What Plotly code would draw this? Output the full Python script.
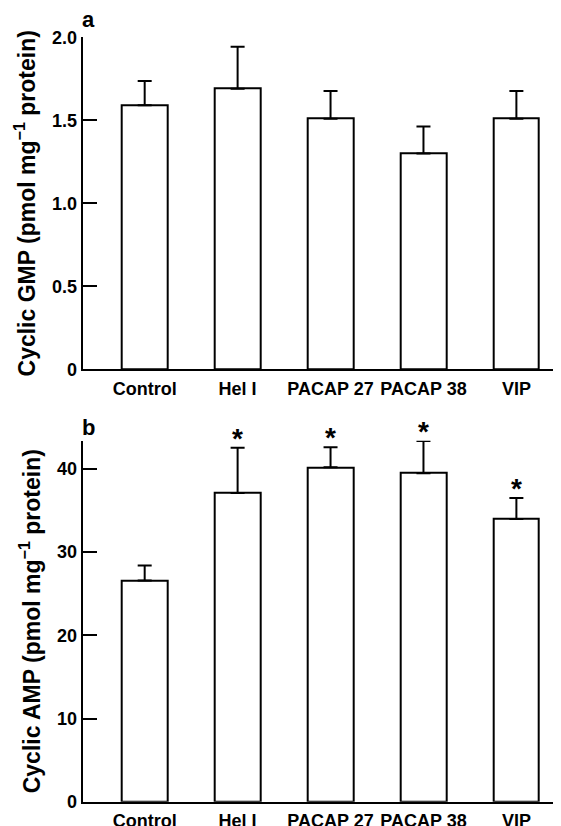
import plotly.graph_objects as go

categories = ["Control", "Hel I", "PACAP 27", "PACAP 38", "VIP"]
cgmp_mean = [1.59, 1.69, 1.51, 1.30, 1.51]
cgmp_sem = [0.147, 0.253, 0.166, 0.162, 0.166]
camp_mean = [26.6, 37.1, 40.2, 39.5, 34.0]
camp_sem = [1.8, 5.45, 2.4, 3.85, 2.5]
camp_sig = ["", "*", "*", "*", "*"]

gmp_ticks = [0, 0.5, 1.0, 1.5, 2.0]
gmp_ticktext = ["0", "0.5", "1.0", "1.5", "2.0"]
amp_ticks = [0, 10, 20, 30, 40]
amp_ticktext = ["0", "10", "20", "30", "40"]

# the page body has an 8 px margin; the figure is sized to fill the rest
OFF = 8
W, H = 561 - OFF, 826 - OFF
FONT = "Liberation Sans, Arial, Helvetica, sans-serif"
xpos = list(range(len(categories)))

def px(x):
    return (x - OFF) / W

def py(y):
    return (H - (y - OFF)) / H

fig = go.Figure()

def add_bars(means, sems, xa, ya):
    fig.add_trace(go.Bar(
        x=xpos, y=means, width=0.49,
        marker=dict(color="white", line=dict(color="black", width=2)),
        error_y=dict(type="data", symmetric=False, array=sems,
                     arrayminus=[0] * len(sems), color="black",
                     thickness=2, width=7),
        xaxis=xa, yaxis=ya, showlegend=False, hoverinfo="skip",
    ))

add_bars(cgmp_mean, cgmp_sem, "x", "y")
add_bars(camp_mean, camp_sem, "x2", "y2")

x_dom = [px(82.7), 1]
top_dom = [py(369.3), py(37.3)]
bot_dom = [py(801.7), py(440.7)]

tickfont = dict(family=FONT, size=18, color="black", weight="bold")
titlefont = dict(family=FONT, size=23, color="black", weight="bold")

xaxis_common = dict(
    range=[-0.667, 4.48], tickmode="array", tickvals=xpos, ticktext=categories,
    showline=True, linecolor="black", linewidth=2, ticks="", showgrid=False,
    zeroline=False, tickfont=tickfont, ticklabelstandoff=2, tickangle=0,
    automargin=False, fixedrange=True,
)
yaxis_common = dict(
    showline=True, linecolor="black", linewidth=2, ticks="inside", ticklen=14,
    tickwidth=2, tickcolor="black", showgrid=False, zeroline=False,
    tickfont=tickfont, ticklabelstandoff=0, automargin=False,
)

fig.update_layout(
    template="none",
    width=W, height=H, margin=dict(l=0, r=0, t=0, b=0, autoexpand=False),
    paper_bgcolor="white", plot_bgcolor="white",
    font=dict(family=FONT, color="black"),
    bargap=0,
    xaxis=dict(domain=x_dom, anchor="y", **xaxis_common),
    yaxis=dict(domain=top_dom, anchor="x", range=[0, 2.0], tickvals=gmp_ticks,
               ticktext=gmp_ticktext,
               title=dict(text="Cyclic GMP (pmol mg<sup>−1</sup> protein)",
                          font=titlefont, standoff=10),
               **yaxis_common),
    xaxis2=dict(domain=x_dom, anchor="y2", **xaxis_common),
    yaxis2=dict(domain=bot_dom, anchor="x2", range=[0, 43.4], tickvals=amp_ticks,
                ticktext=amp_ticktext,
                title=dict(text="Cyclic AMP (pmol mg<sup>−1</sup> protein)",
                           font=titlefont, standoff=10),
                **yaxis_common),
)

# panel letters
fig.add_annotation(text="a", xref="paper", yref="paper",
                   x=px(88), y=py(20), showarrow=False,
                   font=dict(family=FONT, size=22, weight="bold"),
                   xanchor="center", yanchor="middle")
fig.add_annotation(text="b", xref="paper", yref="paper",
                   x=px(88.5), y=py(427), showarrow=False,
                   font=dict(family=FONT, size=22, weight="bold"),
                   xanchor="center", yanchor="middle")

# significance stars
for i, s in enumerate(camp_sig):
    if s:
        fig.add_annotation(text=s, x=xpos[i], y=camp_mean[i] + camp_sem[i],
                           xref="x2", yref="y2", showarrow=False, xanchor="center",
                           yanchor="bottom", yshift=-8,
                           font=dict(family=FONT, size=28, color="black", weight="bold"))

fig.write_html("out.html")
